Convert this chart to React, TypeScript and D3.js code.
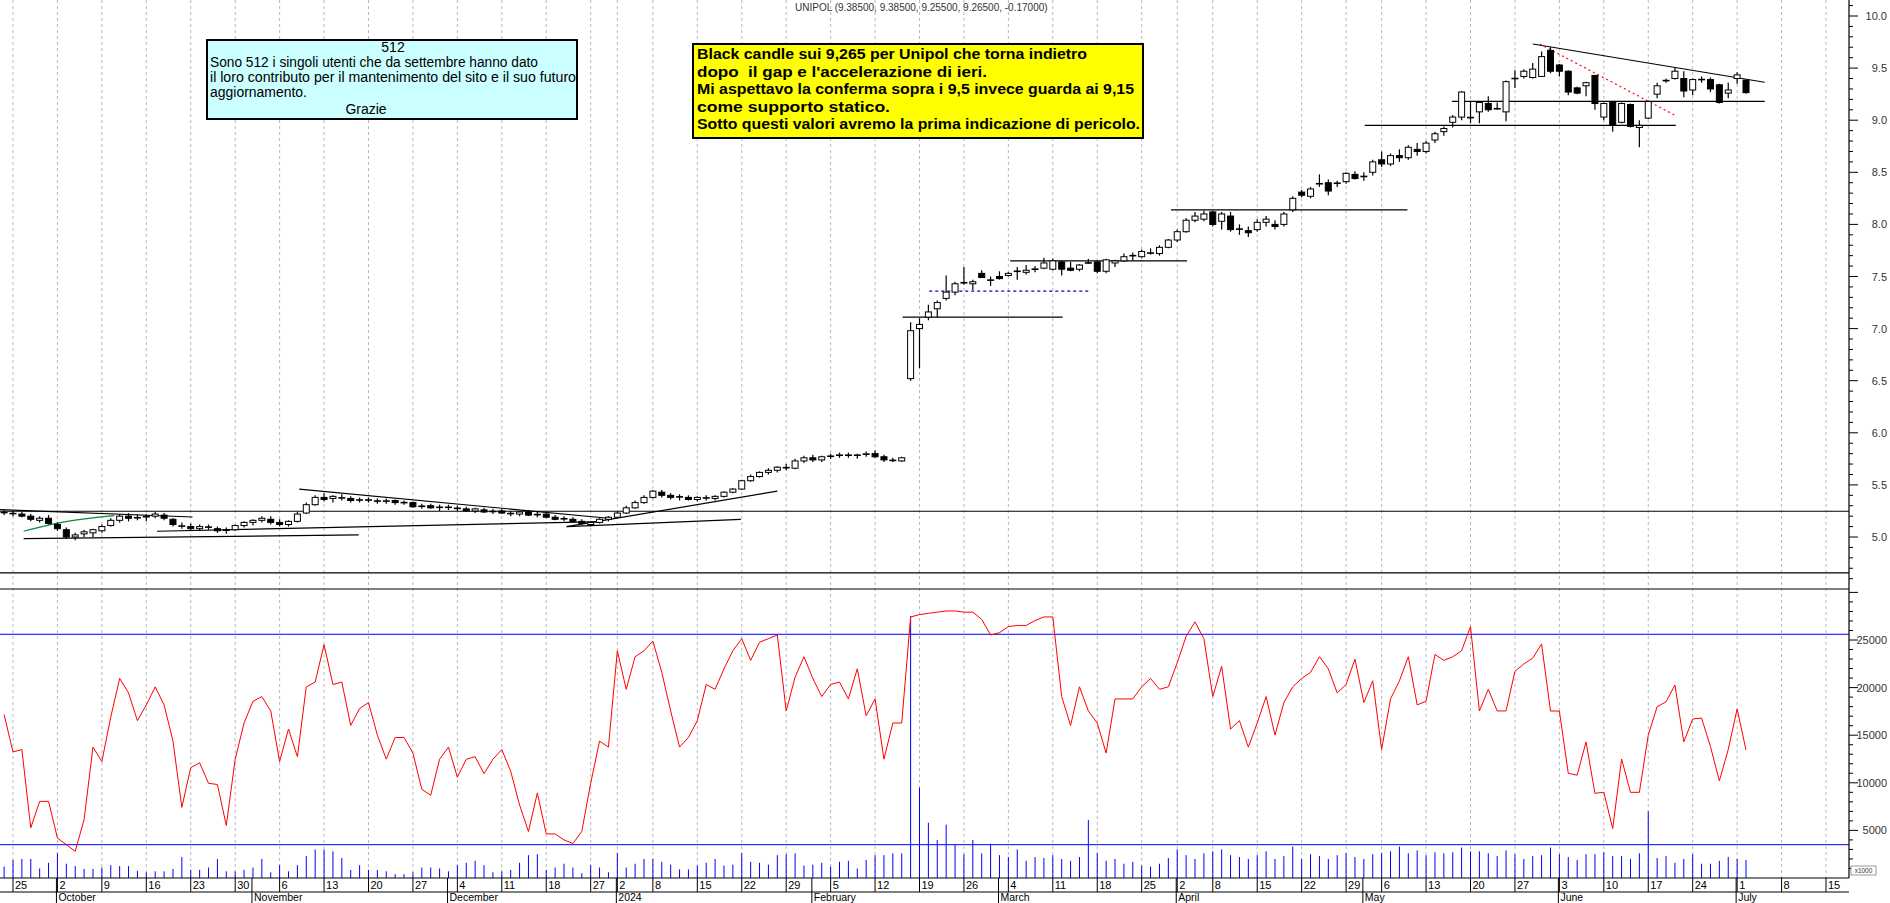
import * as d3 from 'd3';

const FIRST_INDEX = -1; // first candle = Sep 22, 2023; index 0 = Sep 25

// [open, high, low, close]
const candles: [number, number, number, number][] = [
  [5.24,5.26,5.21,5.23],[5.23,5.25,5.20,5.22],[5.22,5.24,5.19,5.20],[5.20,5.22,5.15,5.17],[5.16,5.20,5.14,5.18],[5.18,5.21,5.12,5.13],
  [5.12,5.14,5.06,5.08],[5.07,5.09,4.98,5.00],[5.00,5.04,4.97,5.02],[5.03,5.07,5.00,5.05],[5.04,5.08,5.00,5.07],
  [5.06,5.12,5.04,5.10],[5.11,5.18,5.10,5.16],[5.16,5.22,5.14,5.20],[5.20,5.23,5.15,5.18],[5.18,5.22,5.16,5.19],
  [5.19,5.22,5.15,5.20],[5.20,5.24,5.18,5.22],[5.21,5.23,5.16,5.18],[5.17,5.18,5.10,5.12],[5.11,5.14,5.08,5.10],
  [5.10,5.13,5.06,5.08],[5.08,5.12,5.06,5.10],[5.10,5.12,5.07,5.09],[5.08,5.10,5.04,5.06],[5.06,5.09,5.03,5.07],
  [5.07,5.12,5.06,5.11],[5.11,5.15,5.09,5.14],[5.14,5.17,5.11,5.16],[5.16,5.20,5.14,5.18],[5.17,5.20,5.12,5.14],
  [5.14,5.17,5.10,5.12],[5.12,5.16,5.10,5.15],[5.15,5.24,5.14,5.22],[5.23,5.33,5.22,5.31],[5.31,5.40,5.30,5.38],
  [5.38,5.42,5.34,5.36],[5.37,5.40,5.33,5.39],[5.38,5.41,5.35,5.37],[5.37,5.39,5.33,5.35],[5.35,5.38,5.33,5.36],
  [5.36,5.38,5.33,5.35],[5.35,5.37,5.32,5.34],[5.34,5.37,5.32,5.35],[5.35,5.36,5.31,5.33],[5.33,5.35,5.31,5.33],
  [5.33,5.34,5.28,5.29],[5.29,5.32,5.27,5.30],[5.30,5.32,5.27,5.28],[5.28,5.31,5.25,5.29],[5.29,5.31,5.26,5.28],
  [5.28,5.30,5.25,5.27],[5.27,5.29,5.24,5.25],[5.25,5.28,5.23,5.27],[5.26,5.28,5.23,5.24],[5.24,5.27,5.22,5.25],
  [5.25,5.27,5.22,5.23],[5.23,5.25,5.20,5.22],[5.22,5.25,5.20,5.24],[5.24,5.26,5.20,5.21],[5.21,5.24,5.19,5.22],
  [5.22,5.23,5.18,5.19],[5.19,5.21,5.16,5.17],[5.17,5.20,5.15,5.18],[5.17,5.19,5.14,5.15],[5.15,5.17,5.12,5.13],
  [5.12,5.15,5.10,5.14],[5.14,5.18,5.13,5.17],[5.17,5.20,5.15,5.19],
  [5.19,5.24,5.18,5.23],[5.23,5.30,5.22,5.28],[5.28,5.35,5.27,5.33],[5.33,5.40,5.32,5.38],
  [5.38,5.45,5.37,5.44],[5.43,5.45,5.38,5.40],[5.40,5.42,5.36,5.38],[5.38,5.41,5.35,5.39],[5.38,5.40,5.35,5.36],
  [5.36,5.39,5.34,5.38],[5.38,5.40,5.35,5.37],[5.37,5.40,5.35,5.39],[5.39,5.44,5.38,5.43],[5.43,5.47,5.42,5.46],
  [5.46,5.55,5.45,5.54],[5.54,5.60,5.53,5.58],[5.58,5.63,5.57,5.62],[5.62,5.66,5.60,5.64],[5.64,5.68,5.62,5.67],
  [5.67,5.70,5.64,5.66],[5.66,5.75,5.65,5.73],[5.73,5.78,5.71,5.76],[5.76,5.79,5.72,5.74],[5.74,5.78,5.72,5.77],
  [5.77,5.80,5.75,5.78],[5.78,5.81,5.76,5.79],[5.79,5.81,5.76,5.78],[5.78,5.80,5.75,5.79],[5.79,5.82,5.77,5.80],
  [5.80,5.83,5.76,5.77],[5.77,5.79,5.72,5.74],[5.74,5.76,5.72,5.73],[5.73,5.77,5.72,5.76],[6.52,7.06,6.50,6.98],
  [7.00,7.10,6.62,7.04],[7.11,7.23,7.08,7.16],[7.19,7.27,7.11,7.25],[7.29,7.51,7.27,7.35],[7.35,7.45,7.32,7.43],
  [7.44,7.59,7.42,7.44],[7.43,7.47,7.37,7.45],[7.53,7.56,7.49,7.49],[7.47,7.50,7.41,7.46],[7.50,7.55,7.47,7.48],
  [7.51,7.54,7.50,7.53],[7.55,7.59,7.47,7.55],[7.54,7.61,7.52,7.56],[7.57,7.60,7.54,7.57],[7.58,7.68,7.57,7.63],
  [7.57,7.67,7.56,7.65],[7.64,7.65,7.51,7.57],[7.58,7.64,7.55,7.56],[7.57,7.62,7.55,7.61],[7.63,7.67,7.62,7.63],
  [7.64,7.65,7.53,7.55],[7.55,7.67,7.53,7.66],[7.63,7.66,7.59,7.65],[7.65,7.72,7.64,7.69],[7.70,7.73,7.65,7.70],
  [7.69,7.76,7.68,7.74],[7.73,7.77,7.71,7.72],[7.72,7.80,7.70,7.78],[7.78,7.86,7.77,7.85],
  [7.85,7.95,7.83,7.93],[7.93,8.06,7.92,8.04],[8.04,8.12,8.02,8.08],[8.05,8.13,8.03,8.10],
  [8.12,8.13,7.98,8.00],[8.03,8.12,7.95,8.10],[8.08,8.12,7.93,7.95],[7.95,8.00,7.90,7.96],[7.94,7.98,7.88,7.92],
  [7.95,8.05,7.93,8.02],[8.02,8.08,7.98,8.05],[8.00,8.04,7.95,7.98],[8.00,8.12,7.98,8.10],[8.14,8.27,8.12,8.25],
  [8.31,8.33,8.26,8.28],[8.27,8.36,8.25,8.34],[8.39,8.48,8.36,8.39],[8.40,8.43,8.28,8.32],[8.39,8.42,8.36,8.40],
  [8.41,8.50,8.39,8.49],[8.48,8.51,8.43,8.44],[8.46,8.50,8.42,8.46],[8.50,8.62,8.47,8.60],
  [8.62,8.70,8.55,8.58],[8.58,8.68,8.56,8.66],[8.66,8.72,8.60,8.64],[8.64,8.76,8.62,8.74],[8.72,8.78,8.66,8.70],
  [8.70,8.80,8.68,8.78],[8.81,8.89,8.78,8.87],[8.89,8.94,8.85,8.92],[8.98,9.05,8.93,9.03],[9.03,9.28,9.00,9.27],
  [9.03,9.18,8.97,9.02],[9.08,9.18,8.97,9.17],[9.16,9.23,9.08,9.10],[9.11,9.17,9.10,9.11],[9.08,9.38,8.99,9.37],
  [9.40,9.48,9.31,9.40],[9.42,9.49,9.40,9.47],[9.41,9.55,9.40,9.49],[9.42,9.66,9.42,9.61],[9.67,9.70,9.45,9.47],
  [9.53,9.54,9.42,9.47],[9.47,9.48,9.24,9.27],[9.31,9.32,9.25,9.26],[9.33,9.37,9.23,9.36],[9.43,9.43,9.10,9.16],
  [9.03,9.17,9.00,9.16],[9.18,9.18,8.89,8.95],[8.98,9.17,8.97,9.16],[9.15,9.16,8.93,8.94],[8.93,9.00,8.74,8.95],
  [9.02,9.19,9.01,9.18],[9.25,9.36,9.21,9.33],[9.38,9.40,9.36,9.38],[9.40,9.50,9.39,9.47],[9.40,9.47,9.22,9.28],
  [9.29,9.40,9.24,9.39],[9.39,9.42,9.36,9.39],[9.39,9.41,9.27,9.30],[9.34,9.35,9.16,9.17],[9.26,9.36,9.21,9.29],
  [9.40,9.46,9.35,9.435],[9.385,9.385,9.255,9.265],
];

// red line of the lower panel, one value per session
const redLine: number[] = [
  17165, 13240, 13490, 5270, 8050, 8050, 4200, 3500, 2800, 6150,
  13750, 12230, 16910, 20960, 19440, 16530, 18180, 20080, 18180, 14380,
  7420, 11600, 12100, 9950, 9820, 5520, 12480, 16280, 18560, 19060,
  17550, 12230, 15650, 12740, 20080, 20580, 24510, 20330, 20580, 16030,
  17800, 18430, 15010, 12480, 14760, 14760, 13120, 9320, 8690, 12480,
  13750, 10580, 12480, 12740, 10960, 12480, 13490, 11220, 7670, 4890,
  8940, 4630, 4630, 4000, 3620, 4890, 9950, 14380, 13750, 23870,
  19820, 23240, 23870, 24890, 21600, 17550, 13750, 14760, 16530, 20330,
  19820, 21980, 23870, 25140, 22860, 24760, 25140, 25520, 17550, 21090,
  23240, 20960, 19060, 20330, 20580, 18810, 21980, 17040, 18810, 12480,
  16280, 16280, 27420, 27670, 27800, 27920, 28050, 28050, 27920, 27920,
  27170, 25520, 25770, 26410, 26530, 26530, 27040, 27420, 27420, 19060,
  16030, 20080, 17550, 16280, 13120, 18810, 18810, 18810, 20080, 20960,
  19820, 20080, 22610, 25390, 26910, 25140, 19060, 22230, 15650, 16530,
  13750, 16280, 19060, 15010, 18430, 20080, 20960, 21600, 23240, 21980,
  19440, 20330, 22990, 18430, 20710, 13490, 18810, 20710, 23240, 18180,
  18560, 23490, 22860, 23240, 23870, 26410, 17550, 19820, 17550, 17550,
  21720, 22480, 23100, 24580, 17540, 17540, 11000, 10800, 14300, 8900,
  9000, 5200, 12500, 9000, 9000, 15000, 18000, 18500, 20270, 14300,
  16700, 16800, 13800, 10200, 13500, 17750, 13450,
];

// volume bars (x1000)
const volume: number[] = [
  1200, 1900, 2000, 2000, 1000, 1600, 2600, 1500, 1250, 950,
  950, 1100, 1350, 1250, 1250, 750, 600, 700, 700, 950,
  2200, 850, 850, 1100, 2000, 700, 700, 850, 1100, 2000,
  600, 1350, 700, 1350, 2300, 3000, 3000, 2800, 2100, 850,
  1350, 850, 850, 700, 400, 400, 600, 1100, 1100, 1000,
  700, 1350, 1600, 1800, 1350, 600, 700, 850, 1600, 2400,
  2500, 850, 1100, 1500, 1100, 500, 1350, 1100, 600, 2600,
  1100, 1500, 2000, 2000, 1700, 1400, 900, 900, 1300, 1600,
  2000, 1300, 1400, 2600, 1700, 1600, 1400, 2400, 2500, 2600,
  1300, 1400, 1600, 1200, 1700, 1800, 1000, 1900, 2400, 2400,
  2600, 2600, 27500, 9500, 5800, 4000, 5600, 3500, 2500, 4000,
  2600, 3600, 2400, 2200, 3000, 1800, 2200, 2100, 2400, 2000,
  1800, 2200, 6100, 2600, 1800, 2000, 1500, 1700, 1300, 1200,
  1500, 2100, 3000, 2400, 2000, 2600, 2800, 3000, 2400, 2200,
  2000, 2400, 2800, 2000, 2300, 3300, 2000, 2500, 2300, 2000,
  2400, 2600, 2200, 2000, 2500, 2600, 2800, 3300, 2600, 2900,
  2400, 2700, 2600, 2700, 3200, 2800, 2800, 2600, 2300, 2900,
  2500, 2000, 2300, 2400, 3200, 2500, 2200, 1900, 2500, 2500,
  2700, 2300, 2300, 2000, 2600, 7000, 2100, 2300, 1600, 2000,
  2500, 1500, 1500, 1800, 2200, 2000, 1900,
];

// [session index, label]
const dayTicks: [number, string][] = [
  [0, '25'], [5, '2'], [10, '9'], [15, '16'], [20, '23'], [25, '30'],
  [30, '6'], [35, '13'], [40, '20'], [45, '27'], [50, '4'], [55, '11'],
  [60, '18'], [65, '27'], [68, '2'], [72, '8'], [77, '15'], [82, '22'],
  [87, '29'], [92, '5'], [97, '12'], [102, '19'], [107, '26'], [112, '4'],
  [117, '11'], [122, '18'], [127, '25'], [131, '2'], [135, '8'], [140, '15'],
  [145, '22'], [150, '29'], [154, '6'], [159, '13'], [164, '20'], [169, '27'],
  [174, '3'], [179, '10'], [184, '17'], [189, '24'], [194, '1'], [199, '8'],
  [204, '15'],
];

const monthTicks: [number, string][] = [
  [5, 'October'], [27, 'November'], [49, 'December'], [68, '2024'], [90, 'February'],
  [111, 'March'], [131, 'April'], [152, 'May'], [174, 'June'], [194, 'July'],
];

// drawn studies: [i1, p1, i2, p2]
const blackLines: [number, number, number, number][] = [
  [-1.5, 5.262, 20.2, 5.192],
  [1.2, 4.985, 38.9, 5.02],
  [32.2, 5.459, 67.0, 5.18],
  [16.2, 5.055, 66.3, 5.148],
  [62.3, 5.10, 86.0, 5.44],
  [62.3, 5.10, 81.9, 5.17],
  [100.1, 7.11, 118.1, 7.11],
  [112.2, 7.65, 132.1, 7.65],
  [130.3, 8.14, 156.9, 8.14],
  [152.1, 8.95, 187.1, 8.95],
  [161.9, 9.18, 197.1, 9.18],
  [171.0, 9.731, 197.1, 9.364],
];
const blueDashed: [number, number, number, number] = [103.1, 7.36, 121.0, 7.36];
const redDotted: [number, number, number, number] = [171.8, 9.731, 187.1, 9.043];
const greenCurve: [number, number][] = [[1.2, 5.055], [6.0, 5.16], [11.4, 5.205]];

const fullLines = [5.247, 4.655]; // horizontal lines on the price panel
const volumeLevels = [25600, 3500];

const cyanLines = [
  'Sono 512 i singoli utenti che da settembre hanno dato',
  'il loro contributo per il mantenimento del sito e il suo futuro',
  'aggiornamento.',
];
const yellowLines = [
  'Black candle sui 9,265 per Unipol che torna indietro',
  "dopo  il gap e l'accelerazione di ieri.",
  'Mi aspettavo la conferma sopra i 9,5 invece guarda ai 9,15',
  'come supporto statico.',
  'Sotto questi valori avremo la prima indicazione di pericolo.',
];
const yellowWidths = [390, 290, 437, 193, 443];
const cyanWidths = [328, 366, 97];

const W = 1890;
const H = 903;
const AXIS_X = 1849;
const PANEL_SPLIT = 589;
const VOL_BASE = 878;

export default function App() {
  const x = d3.scaleLinear().domain([0, 204]).range([13, 1826]);
  const y = d3.scaleLinear().domain([5, 10]).range([537, 16]);
  const yv = d3.scaleLinear().domain([0, 25000]).range([VOL_BASE, 640]);
  const fmt = d3.format('.1f');
  const idx = (k: number) => FIRST_INDEX + k;

  const redPath = d3.line<number>().x((_, k) => x(idx(k))).y((d) => yv(d))(redLine) || '';
  const greenPath = d3.line<[number, number]>().x((d) => x(d[0])).y((d) => y(d[1])).curve(d3.curveBasis)(greenCurve) || '';

  const priceMinor = d3.range(46, 102).map((v) => v / 10);
  const volMinor = d3.range(1000, 30001, 1000);
  const font = 'Liberation Sans, Arial, sans-serif';
  const narrow = 'Liberation Sans Narrow, Arial Narrow, sans-serif';

  return (
    <div style={{ position: 'absolute', left: 0, top: 0 }}>
      <svg width={W} height={H} style={{ display: 'block', background: '#fff' }}>
        <defs>
          <clipPath id="pricePanel"><rect x={0} y={0} width={AXIS_X} height={PANEL_SPLIT} /></clipPath>
          <clipPath id="volPanel"><rect x={0} y={PANEL_SPLIT} width={AXIS_X} height={VOL_BASE - PANEL_SPLIT} /></clipPath>
        </defs>

        {/* weekly grid */}
        {dayTicks.map(([i]) => (
          <line key={'g' + i} x1={x(i)} x2={x(i)} y1={0} y2={VOL_BASE} stroke="#b8b8b8" strokeDasharray="3,3" />
        ))}

        <text x={795} y={11} fontFamily={font} fontSize={10} fill="#333">
          UNIPOL (9.38500, 9.38500, 9.25500, 9.26500, -0.17000)
        </text>

        {/* price panel */}
        <g clipPath="url(#pricePanel)">
          {fullLines.map((p) => (
            <line key={'f' + p} x1={0} x2={AXIS_X} y1={y(p)} y2={y(p)} stroke="#000" strokeWidth={1.2} />
          ))}
          {blackLines.map((l, k) => (
            <line key={'b' + k} x1={x(l[0])} y1={y(l[1])} x2={x(l[2])} y2={y(l[3])} stroke="#000" strokeWidth={1.2} />
          ))}
          <line x1={x(blueDashed[0])} y1={y(blueDashed[1])} x2={x(blueDashed[2])} y2={y(blueDashed[3])}
            stroke="#0000cc" strokeWidth={1.2} strokeDasharray="3,3" />
          <line x1={x(redDotted[0])} y1={y(redDotted[1])} x2={x(redDotted[2])} y2={y(redDotted[3])}
            stroke="#ff0000" strokeWidth={1.2} strokeDasharray="2,3" />
          <path d={greenPath} fill="none" stroke="#008a3a" strokeWidth={1.2} />

          {candles.map(([o, h, l, c], k) => {
            const cx = x(idx(k));
            const top = y(Math.max(o, c));
            const bot = y(Math.min(o, c));
            const up = c >= o;
            const flat = Math.abs(bot - top) < 1.5;
            return (
              <g key={'c' + k}>
                <line x1={cx} x2={cx} y1={y(h)} y2={y(l)} stroke="#000" strokeWidth={1.2} />
                {flat ? (
                  <line x1={cx - 3.5} x2={cx + 3.5} y1={(top + bot) / 2} y2={(top + bot) / 2} stroke="#000" strokeWidth={1.6} />
                ) : (
                  <rect x={cx - 3} y={top} width={6} height={bot - top} fill={up ? '#fff' : '#000'} stroke="#000" strokeWidth={1} />
                )}
              </g>
            );
          })}
        </g>

        <line x1={0} x2={AXIS_X} y1={PANEL_SPLIT} y2={PANEL_SPLIT} stroke="#000" strokeWidth={1.2} />

        {/* lower panel */}
        <g clipPath="url(#volPanel)">
          {volumeLevels.map((v) => (
            <line key={'vl' + v} x1={0} x2={AXIS_X} y1={yv(v)} y2={yv(v)} stroke="#0000ff" strokeWidth={1} />
          ))}
          {volume.map((v, k) => (
            <line key={'v' + k} x1={x(idx(k))} x2={x(idx(k))} y1={VOL_BASE} y2={yv(v)} stroke="#0000ff" strokeWidth={1} />
          ))}
          <path d={redPath} fill="none" stroke="#ff0000" strokeWidth={1} />
        </g>

        {/* right axis */}
        <line x1={AXIS_X} x2={AXIS_X} y1={0} y2={VOL_BASE} stroke="#000" strokeWidth={1.2} />
        {priceMinor.map((p) => (
          <line key={'pt' + p} x1={AXIS_X} x2={AXIS_X + (Math.round(p * 10) % 5 === 0 ? 9 : 4)} y1={y(p)} y2={y(p)} stroke="#000" />
        ))}
        {d3.range(50, 101, 5).map((v) => (
          <text key={'pl' + v} x={1887} y={y(v / 10) + 4} textAnchor="end" fontFamily={font} fontSize={11} fill="#333">
            {fmt(v / 10)}
          </text>
        ))}
        {volMinor.map((v) => (
          <line key={'vt' + v} x1={AXIS_X} x2={AXIS_X + (v % 5000 === 0 ? 9 : 4)} y1={yv(v)} y2={yv(v)} stroke="#000" />
        ))}
        {d3.range(5000, 25001, 5000).map((v) => (
          <text key={'vlab' + v} x={1887} y={yv(v) + 4} textAnchor="end" fontFamily={font} fontSize={11} fill="#333">
            {v}
          </text>
        ))}
        <rect x={1851} y={866} width={25} height={9} fill="#fff" stroke="#555" strokeWidth={0.6} />
        <text x={1863.5} y={873} textAnchor="middle" fontFamily={font} fontSize={6.5} fill="#333">x1000</text>

        {/* date axis */}
        <line x1={0} x2={AXIS_X} y1={VOL_BASE} y2={VOL_BASE} stroke="#000" strokeWidth={1.2} />
        <line x1={0} x2={AXIS_X} y1={892} y2={892} stroke="#000" strokeWidth={1.2} />
        {dayTicks.map(([i, lab]) => (
          <g key={'d' + i}>
            <line x1={x(i)} x2={x(i)} y1={VOL_BASE} y2={892} stroke="#000" />
            <text x={x(i) + 2} y={889} fontFamily={font} fontSize={11} fill="#000">{lab}</text>
          </g>
        ))}
        {monthTicks.map(([i, lab]) => (
          <g key={'m' + i}>
            <line x1={x(i) - 1} x2={x(i) - 1} y1={VOL_BASE} y2={H} stroke="#000" />
            <text x={x(i) + 1} y={901} fontFamily={font} fontSize={10.5} fill="#000">{lab}</text>
          </g>
        ))}

        {/* notes */}
        <rect x={207} y={40} width={370} height={79} fill="#ccffff" stroke="#000" strokeWidth={2} />
        <text x={393} y={52} textAnchor="middle" fontFamily={narrow} fontSize={14}>512</text>
        {cyanLines.map((t, k) => (
          <text key={'cy' + k} x={210} y={67 + k * 15} fontFamily={narrow} fontSize={14}
            textLength={cyanWidths[k]} lengthAdjust="spacingAndGlyphs">{t}</text>
        ))}
        <text x={366} y={114} textAnchor="middle" fontFamily={narrow} fontSize={14}>Grazie</text>

        <rect x={693} y={44} width={450} height={94} fill="#ffff00" stroke="#000" strokeWidth={2} />
        {yellowLines.map((t, k) => (
          <text key={'ye' + k} x={697} y={59 + k * 17.6} fontFamily={font} fontWeight="bold" fontSize={14}
            textLength={yellowWidths[k]} lengthAdjust="spacingAndGlyphs" style={{ whiteSpace: 'pre' }}>{t}</text>
        ))}
      </svg>
    </div>
  );
}
